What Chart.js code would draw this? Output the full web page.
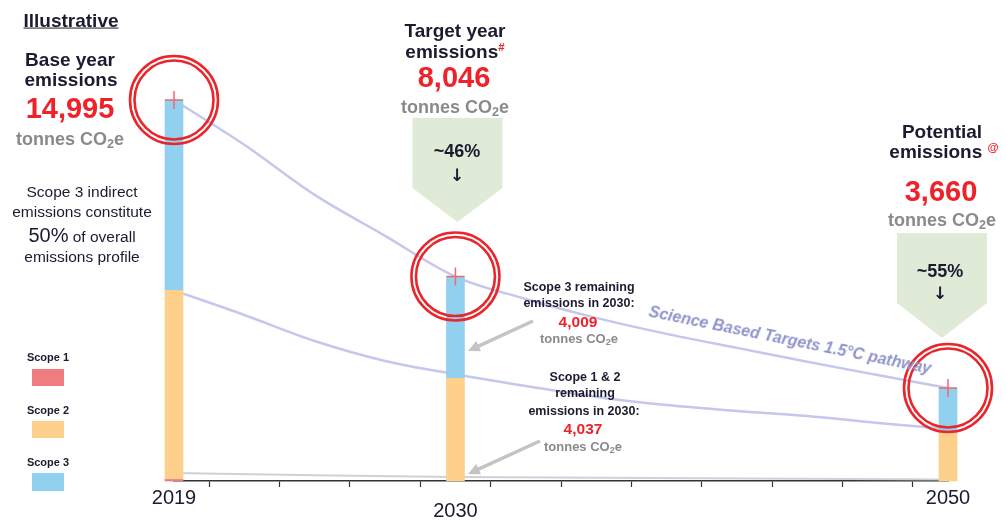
<!DOCTYPE html>
<html>
<head>
<meta charset="utf-8">
<script src="https://cdn.jsdelivr.net/npm/chart.js@4.4.1/dist/chart.umd.min.js"></script>
<style>
  body { margin: 0; background: #fff; }
  #wrap { position: relative; width: 1006px; height: 520px; font-family: Arial, 'Liberation Sans', sans-serif; color: #1b1b30; }
  #wrap canvas { position: absolute; left: 0; top: 0; }
  .t { position: absolute; white-space: nowrap; text-align: center; transform: translate(-50%, -50%); line-height: 1.1; }
  .b { font-weight: bold; }
  .red { color: #ef2229; font-weight: bold; }
  .grey { color: #8a8a8a; font-weight: bold; }
  .grey sub { font-size: 0.7em; vertical-align: -0.25em; line-height: 0; }
  .sup { color: #ef2229; font-size: 0.6em; vertical-align: 0.6em; line-height: 0; }
  .arr { font-family: 'DejaVu Sans', sans-serif; font-weight: bold; }
  .box { position: absolute; }
</style>
</head>
<body>
<div id="wrap">
  <canvas id="chart" width="1006" height="520"></canvas>

  <!-- bloco da esquerda -->
  <div class="t b" style="left:71px;top:21px;font-size:19px;text-decoration:underline;">Illustrative</div>
  <div class="t b" style="left:70px;top:60px;font-size:19px;">Base year</div>
  <div class="t b" style="left:71px;top:80px;font-size:19px;">emissions</div>
  <div class="t red" style="left:70px;top:109px;font-size:29px;">14,995</div>
  <div class="t grey" style="left:70px;top:140px;font-size:18px;">tonnes CO<sub>2</sub>e</div>
  <div class="t" style="left:82px;top:192px;font-size:15.5px;">Scope 3 indirect</div>
  <div class="t" style="left:82px;top:212px;font-size:15.5px;">emissions constitute</div>
  <div class="t" style="left:82px;top:235px;font-size:15.5px;"><span style="font-size:20px;">50%</span> of overall</div>
  <div class="t" style="left:82px;top:257px;font-size:15.5px;">emissions profile</div>

  <!-- alvo 2030 -->
  <div class="t b" style="left:455px;top:31px;font-size:19px;">Target year</div>
  <div class="t b" style="left:455px;top:52px;font-size:19px;">emissions<span class="sup">#</span></div>
  <div class="t red" style="left:454px;top:78px;font-size:29px;">8,046</div>
  <div class="t grey" style="left:455px;top:108px;font-size:18px;">tonnes CO<sub>2</sub>e</div>
  <div class="t b" style="left:457px;top:152px;font-size:18px;font-weight:600;">~46%</div>
  <div class="t arr" style="left:457px;top:175px;font-size:17px;">&#8595;</div>

  <!-- potencial 2050 -->
  <div class="t b" style="left:942px;top:132px;font-size:19px;">Potential</div>
  <div class="t b" style="left:944px;top:152px;font-size:19px;">emissions <span class="sup">@</span></div>
  <div class="t red" style="left:941px;top:192px;font-size:29px;">3,660</div>
  <div class="t grey" style="left:942px;top:221px;font-size:18px;">tonnes CO<sub>2</sub>e</div>
  <div class="t b" style="left:940px;top:272px;font-size:18px;font-weight:600;">~55%</div>
  <div class="t arr" style="left:940px;top:293px;font-size:17px;">&#8595;</div>

  <!-- notas do meio -->
  <div class="t b" style="left:579px;top:288px;font-size:12.5px;">Scope 3 remaining</div>
  <div class="t b" style="left:579px;top:304px;font-size:12.5px;">emissions in 2030:</div>
  <div class="t red" style="left:578px;top:322px;font-size:15.5px;">4,009</div>
  <div class="t grey" style="left:579px;top:339px;font-size:13px;">tonnes CO<sub>2</sub>e</div>
  <div class="t b" style="left:585px;top:378px;font-size:12.5px;">Scope 1 &amp; 2</div>
  <div class="t b" style="left:585px;top:394px;font-size:12.5px;">remaining</div>
  <div class="t b" style="left:584px;top:412px;font-size:12.5px;">emissions in 2030:</div>
  <div class="t red" style="left:583px;top:429px;font-size:15.5px;">4,037</div>
  <div class="t grey" style="left:583px;top:447px;font-size:13px;">tonnes CO<sub>2</sub>e</div>

  <div class="t" style="left:790px;top:340px;font-size:16px;font-weight:bold;font-style:italic;color:#8f93cc;transform:translate(-50%,-50%) rotate(11.5deg);">Science Based Targets 1.5°C pathway</div>

  <!-- legenda -->
  <div class="t b" style="left:48px;top:357px;font-size:11px;">Scope 1</div>
  <div class="box" style="left:32px;top:369px;width:32px;height:17px;background:#f07c82;"></div>
  <div class="t b" style="left:48px;top:410px;font-size:11px;">Scope 2</div>
  <div class="box" style="left:32px;top:421px;width:32px;height:17px;background:#fdd08c;"></div>
  <div class="t b" style="left:48px;top:462px;font-size:11px;">Scope 3</div>
  <div class="box" style="left:32px;top:473px;width:32px;height:18px;background:#92d0f0;"></div>
</div>

<script>
// eixo x: 12 marcas, só três anos com rótulo
const tickLabels = ['2019', '', '', '', '2030', '', '', '', '', '', '', '2050'];

// barras empilhadas (tCO2e)
const scope1 = [60, null, null, null, null, null, null, null, null, null, null, null];
const scope2 = [7440, null, null, null, 4037, null, null, null, null, null, null, 1890];
const scope3 = [7495, null, null, null, 4009, null, null, null, null, null, null, 1770];
const totals = [14995, null, null, null, 8046, null, null, null, null, null, null, 3660];

// curvas
const sbtPathway = [14995, 13230, 11260, 9650, 8046, 7165, 6420, 5790, 5240, 4690, 4170, 3660];
const scope12Pathway = [7500, 6535, 5510, 4725, 4200, 3740, 3310, 2990, 2755, 2560, 2285, 2050];
const scope1Pathway = [315, null, null, null, 157, null, null, null, null, null, null, 60];

const RED = '#e8262b';

// setas verdes e setas cinzentas
const shapesPlugin = {
  id: 'shapes',
  beforeDatasetsDraw(chart) {
    const ctx = chart.ctx;
    const xs = chart.scales.x;
    ctx.save();
    ctx.fillStyle = '#dfead7';
    drawPentagon(ctx, xs.getPixelForValue(4) + 2, 118, 90, 188, 222);
    drawPentagon(ctx, xs.getPixelForValue(11) - 6, 233, 90, 303, 338);
    ctx.restore();
  },
  afterDatasetsDraw(chart) {
    const ctx = chart.ctx;
    ctx.save();
    drawArrow(ctx, 533, 321, 468, 351);
    drawArrow(ctx, 540, 441, 468, 474);
    ctx.restore();
  }
};

function drawPentagon(ctx, cx, top, w, shoulder, tip) {
  ctx.beginPath();
  ctx.moveTo(cx - w / 2, top);
  ctx.lineTo(cx + w / 2, top);
  ctx.lineTo(cx + w / 2, shoulder);
  ctx.lineTo(cx, tip);
  ctx.lineTo(cx - w / 2, shoulder);
  ctx.closePath();
  ctx.fill();
}

function drawArrow(ctx, x1, y1, x2, y2) {
  const ang = Math.atan2(y2 - y1, x2 - x1);
  const head = 13;
  ctx.strokeStyle = '#c4c4c4';
  ctx.fillStyle = '#c4c4c4';
  ctx.lineWidth = 3.5;
  ctx.beginPath();
  ctx.moveTo(x1, y1);
  ctx.lineTo(x2 - Math.cos(ang) * head * 0.8, y2 - Math.sin(ang) * head * 0.8);
  ctx.stroke();
  ctx.beginPath();
  ctx.moveTo(x2, y2);
  ctx.lineTo(x2 - Math.cos(ang - 0.45) * head, y2 - Math.sin(ang - 0.45) * head);
  ctx.lineTo(x2 - Math.cos(ang + 0.45) * head, y2 - Math.sin(ang + 0.45) * head);
  ctx.closePath();
  ctx.fill();
}

const ctx = document.getElementById('chart').getContext('2d');
new Chart(ctx, {
  type: 'bar',
  data: {
    labels: tickLabels,
    datasets: [
      { type: 'line', label: 'ring outer', data: totals, showLine: false, pointRadius: 44, pointBorderWidth: 2.6,
        pointBorderColor: RED, pointBackgroundColor: 'transparent', clip: false, order: 0 },
      { type: 'line', label: 'ring inner', data: totals, showLine: false, pointRadius: 39.5, pointBorderWidth: 2.6,
        pointBorderColor: RED, pointBackgroundColor: 'transparent', clip: false, order: 0 },
      { type: 'line', label: 'cross', data: totals, showLine: false, pointStyle: 'cross', pointRadius: 9,
        pointBorderWidth: 1.5, pointBorderColor: '#f0686c', clip: false, order: 1 },
      { label: 'Scope 1', data: scope1, backgroundColor: '#f07c82', stack: 'bars', barThickness: 18, clip: false, order: 2 },
      { label: 'Scope 2', data: scope2, backgroundColor: '#fdd08c', stack: 'bars', barThickness: 18, clip: false, order: 2 },
      { label: 'Scope 3', data: scope3, backgroundColor: '#92d0f0', stack: 'bars', barThickness: 18, clip: false, order: 2 },
      { type: 'line', label: 'SBT 1.5C', data: sbtPathway, borderColor: '#c5c7ec', borderWidth: 2.5, pointRadius: 0,
        cubicInterpolationMode: 'monotone', clip: false, order: 3 },
      { type: 'line', label: 'Scope 1&2 path', data: scope12Pathway, borderColor: '#c5c7ec', borderWidth: 2.5, pointRadius: 0,
        cubicInterpolationMode: 'monotone', clip: false, order: 3 },
      { type: 'line', label: 'Scope 1 path', data: scope1Pathway, borderColor: '#cfd0da', borderWidth: 2, pointRadius: 0,
        spanGaps: true, tension: 0.2, clip: false, order: 3 }
    ]
  },
  options: {
    responsive: false,
    animation: false,
    devicePixelRatio: 1,
    layout: { autoPadding: false, padding: { left: 174, right: 58, top: 20, bottom: -3 } },
    plugins: { legend: { display: false }, tooltip: { enabled: false } },
    scales: {
      x: {
        offset: false,
        grid: { drawOnChartArea: false, tickLength: 6, tickColor: '#333', tickWidth: 1.2 },
        border: { display: true, color: '#333', width: 1.5 },
        ticks: {
          autoSkip: false, maxRotation: 0, minRotation: 0, padding: 5, color: '#1b1b30',
          font: { family: "'Liberation Sans', Arial", size: 20, lineHeight: 0.65 },
          callback: function (value) {
            const lab = this.getLabelForValue(value);
            return lab === '2030' ? ['', lab] : lab;
          }
        }
      },
      y: { display: false, min: 0, max: 18143 }
    }
  },
  plugins: [shapesPlugin]
});
</script>
</body>
</html>
